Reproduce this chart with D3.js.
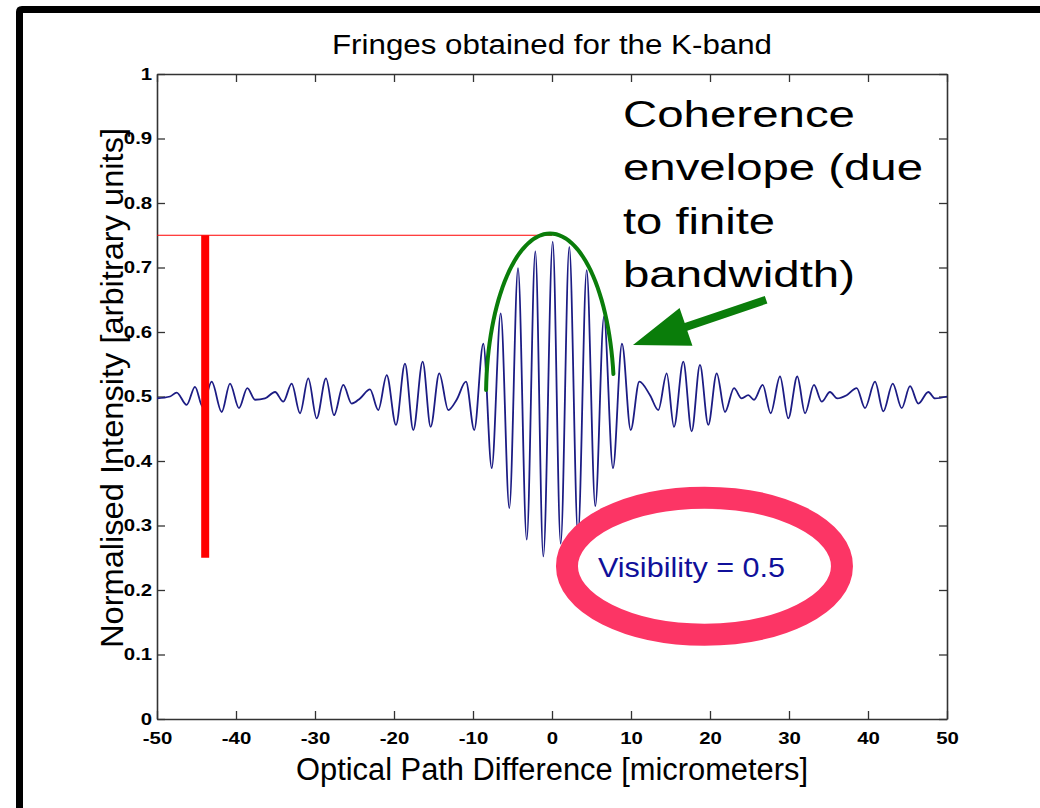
<!DOCTYPE html>
<html>
<head>
<meta charset="utf-8">
<script src="https://cdn.jsdelivr.net/npm/d3@7/dist/d3.min.js"></script>
<style>
  html, body { margin: 0; padding: 0; background: #fff; }
  svg { display: block; }
</style>
</head>
<body>
<svg id="chart" width="1040" height="808"></svg>
<script>
// Optical path difference (micrometers) at the turning points of the fringe signal
const opd = [
  -50.00, -48.35, -47.51, -46.24, -45.19, -44.22, -43.08, -41.81, -40.76, -39.62,
  -38.57, -37.59, -36.33, -35.06, -34.01, -32.95, -31.90, -30.85, -29.79, -28.61,
  -27.59, -26.42, -25.36, -24.30, -23.04, -21.99, -20.92, -19.75, -18.61, -17.56,
  -16.37, -15.36, -14.27, -13.13, -12.07, -10.89, -9.84, -8.70, -7.63, -6.49,
  -5.40, -4.30, -3.20, -2.11, -1.10, 0.09, 1.10, 2.19, 3.29, 4.39,
  5.48, 6.58, 7.72, 8.86, 9.96, 11.05, 12.41, 13.46, 14.52, 15.44,
  16.62, 17.68, 18.73, 19.78, 20.85, 21.90, 23.04, 24.01, 24.85, 25.57,
  26.67, 27.68, 28.86, 29.91, 31.05, 32.03, 33.16, 34.14, 35.19, 36.11,
  37.30, 38.57, 39.62, 40.89, 41.94, 43.13, 44.27, 45.32, 46.37, 47.64,
  48.48, 50.00
];
// Normalised intensity at those points
const intensity = [
  0.497, 0.500, 0.506, 0.487, 0.515, 0.484, 0.523, 0.476, 0.520, 0.482,
  0.513, 0.495, 0.497, 0.507, 0.492, 0.520, 0.474, 0.528, 0.466, 0.528,
  0.471, 0.518, 0.489, 0.497, 0.511, 0.479, 0.533, 0.456, 0.551, 0.448,
  0.554, 0.453, 0.536, 0.479, 0.495, 0.523, 0.448, 0.582, 0.389, 0.629,
  0.327, 0.699, 0.278, 0.725, 0.252, 0.740, 0.272, 0.732, 0.285, 0.696,
  0.330, 0.624, 0.389, 0.582, 0.448, 0.523, 0.502, 0.479, 0.536, 0.453,
  0.554, 0.446, 0.549, 0.456, 0.536, 0.476, 0.513, 0.497, 0.502, 0.495,
  0.518, 0.474, 0.531, 0.466, 0.531, 0.474, 0.518, 0.492, 0.507, 0.497,
  0.502, 0.513, 0.482, 0.523, 0.477, 0.520, 0.482, 0.516, 0.489, 0.507,
  0.497, 0.500
];

const xTicks = [-50, -40, -30, -20, -10, 0, 10, 20, 30, 40, 50];
const xTickLabels = ["-50", "-40", "-30", "-20", "-10", "0", "10", "20", "30", "40", "50"];
const yTicks = [0, 0.1, 0.2, 0.3, 0.4, 0.5, 0.6, 0.7, 0.8, 0.9, 1];
const yTickLabels = ["0", "0.1", "0.2", "0.3", "0.4", "0.5", "0.6", "0.7", "0.8", "0.9", "1"];

const titleText = "Fringes obtained for the K-band";
const xLabelText = "Optical Path Difference [micrometers]";
const yLabelText = "Normalised Intensity [arbitrary units]";
const noteLines = ["Coherence", "envelope (due", "to finite", "bandwidth)"];
const visibilityText = "Visibility = 0.5";

// Fringe amplitude markers
const peakLevel = 0.75;
const troughLevel = 0.25;
const markerOpd = -43.9;

const FONT = "'Liberation Sans', Arial, Helvetica, sans-serif";
const svg = d3.select("#chart");

const plotLeft = 157, plotRight = 947, plotTop = 74, plotBottom = 719;
const x = d3.scaleLinear().domain([-50, 50]).range([plotLeft, plotRight]);
const y = d3.scaleLinear().domain([0, 1]).range([plotBottom, plotTop]);

svg.append("rect").attr("width", 1040).attr("height", 808).attr("fill", "#fff");

// slide frame
svg.append("path")
  .attr("d", "M19.5,808 V12 Q19.5,9.5 22,9.5 H1040")
  .attr("fill", "none").attr("stroke", "#000").attr("stroke-width", 7);

// axes with inward ticks on all four sides
const tickStroke = "#333";
const bottomAxis = d3.axisBottom(x).tickValues(xTicks).tickSizeInner(-8).tickSizeOuter(0)
  .tickPadding(13).tickFormat((d, i) => xTickLabels[i]);
const topAxis = d3.axisTop(x).tickValues(xTicks).tickSizeInner(-8).tickSizeOuter(0).tickFormat("");
const leftAxis = d3.axisLeft(y).tickValues(yTicks).tickSizeInner(-8).tickSizeOuter(0)
  .tickPadding(4).tickFormat((d, i) => yTickLabels[i]);
const rightAxis = d3.axisRight(y).tickValues(yTicks).tickSizeInner(-8).tickSizeOuter(0).tickFormat("");

function styleAxis(g) {
  g.select(".domain").attr("stroke", tickStroke).attr("stroke-width", 1.6);
  g.selectAll(".tick line").attr("stroke", tickStroke).attr("stroke-width", 1.3);
  g.selectAll(".tick text")
    .attr("fill", "#000")
    .style("font-family", FONT)
    .style("font-size", "17px")
    .style("font-weight", "bold");
}

const gx = svg.append("g").attr("transform", `translate(0,${plotBottom})`).call(bottomAxis).call(styleAxis);
gx.selectAll(".tick text").attr("transform", "scale(1.2,1)");
svg.append("g").attr("transform", `translate(0,${plotTop})`).call(topAxis).call(styleAxis);
const gy = svg.append("g").attr("transform", `translate(${plotLeft},0)`).call(leftAxis).call(styleAxis);
gy.selectAll(".tick text").attr("transform", "scale(1.2,1)");
svg.append("g").attr("transform", `translate(${plotRight},0)`).call(rightAxis).call(styleAxis);

// fringe signal
const pts = opd.map((d, i) => [d, intensity[i]]);
const line = d3.line().x(d => x(d[0])).y(d => y(d[1])).curve(d3.curveMonotoneX);
svg.append("path").datum(pts)
  .attr("d", line)
  .attr("fill", "none")
  .attr("stroke", "#1c1c84")
  .attr("stroke-width", 1.8)
  .attr("stroke-linejoin", "round");

// title and axis labels
svg.append("text")
  .attr("x", (plotLeft + plotRight) / 2).attr("y", 54)
  .attr("text-anchor", "middle")
  .attr("textLength", 440).attr("lengthAdjust", "spacingAndGlyphs")
  .style("font-family", FONT).style("font-size", "27px")
  .text(titleText);

svg.append("text")
  .attr("x", (plotLeft + plotRight) / 2).attr("y", 780)
  .attr("text-anchor", "middle")
  .attr("textLength", 512).attr("lengthAdjust", "spacingAndGlyphs")
  .style("font-family", FONT).style("font-size", "31px")
  .text(xLabelText);

svg.append("text")
  .attr("transform", `translate(123,388) rotate(-90)`)
  .attr("text-anchor", "middle")
  .attr("textLength", 520).attr("lengthAdjust", "spacingAndGlyphs")
  .style("font-family", FONT).style("font-size", "32px")
  .text(yLabelText);

// peak-to-trough markers
svg.append("line")
  .attr("x1", x(-50)).attr("x2", x(0.0))
  .attr("y1", y(peakLevel)).attr("y2", y(peakLevel))
  .attr("stroke", "#ff0000").attr("stroke-width", 1);
svg.append("line")
  .attr("x1", x(markerOpd)).attr("x2", x(markerOpd))
  .attr("y1", y(peakLevel)).attr("y2", y(troughLevel))
  .attr("stroke", "#ff0000").attr("stroke-width", 8);

// coherence envelope sketch
const envCenter = [-0.25, 0.5], envHalfW = 8.1, envHalfH = 0.2527;
const envStart = Math.PI - Math.asin(0.04), envEnd = Math.asin(0.138);
const envPts = d3.range(0, 61).map(k => {
  const t = envStart + (envEnd - envStart) * k / 60;
  return [envCenter[0] + envHalfW * Math.cos(t), envCenter[1] + envHalfH * Math.sin(t)];
});
svg.append("path").datum(envPts)
  .attr("d", d3.line().x(d => x(d[0])).y(d => y(d[1])))
  .attr("fill", "none").attr("stroke", "#0a7d0a").attr("stroke-width", 4)
  .attr("stroke-linecap", "round");

// arrow pointing at the envelope
const tail = [x(27.1), y(0.650)], tip = [x(10.25), y(0.580)];
{
  const dx = tip[0] - tail[0], dy = tip[1] - tail[1];
  const len = Math.hypot(dx, dy), ux = dx / len, uy = dy / len, nx = -uy, ny = ux;
  const headL = 56, headW = 20, shaft = 4;
  const bx = tip[0] - ux * headL, by = tip[1] - uy * headL;
  const poly = [
    [tail[0] + nx * shaft, tail[1] + ny * shaft],
    [bx + nx * shaft, by + ny * shaft],
    [bx + nx * headW, by + ny * headW],
    tip,
    [bx - nx * headW, by - ny * headW],
    [bx - nx * shaft, by - ny * shaft],
    [tail[0] - nx * shaft, tail[1] - ny * shaft]
  ];
  svg.append("polygon").attr("points", poly.map(p => p.join(",")).join(" ")).attr("fill", "#0a7d0a");
}

// annotation text
const noteWidths = [232, 300, 152, 232];
noteLines.forEach((t, i) => {
  svg.append("text")
    .attr("x", 623).attr("y", 127 + i * 53.3)
    .attr("textLength", noteWidths[i]).attr("lengthAdjust", "spacingAndGlyphs")
    .style("font-family", FONT).style("font-size", "37px").attr("fill", "#000")
    .text(t);
});

// visibility callout
svg.append("ellipse")
  .attr("cx", x(19.3)).attr("cy", y(0.237))
  .attr("rx", 137.5).attr("ry", 68.5)
  .attr("fill", "none").attr("stroke", "#fc3565").attr("stroke-width", 22);
svg.append("text")
  .attr("x", 598).attr("y", 577)
  .attr("textLength", 187).attr("lengthAdjust", "spacingAndGlyphs")
  .style("font-family", FONT).style("font-size", "28px").attr("fill", "#10109a")
  .text(visibilityText);
</script>
</body>
</html>
